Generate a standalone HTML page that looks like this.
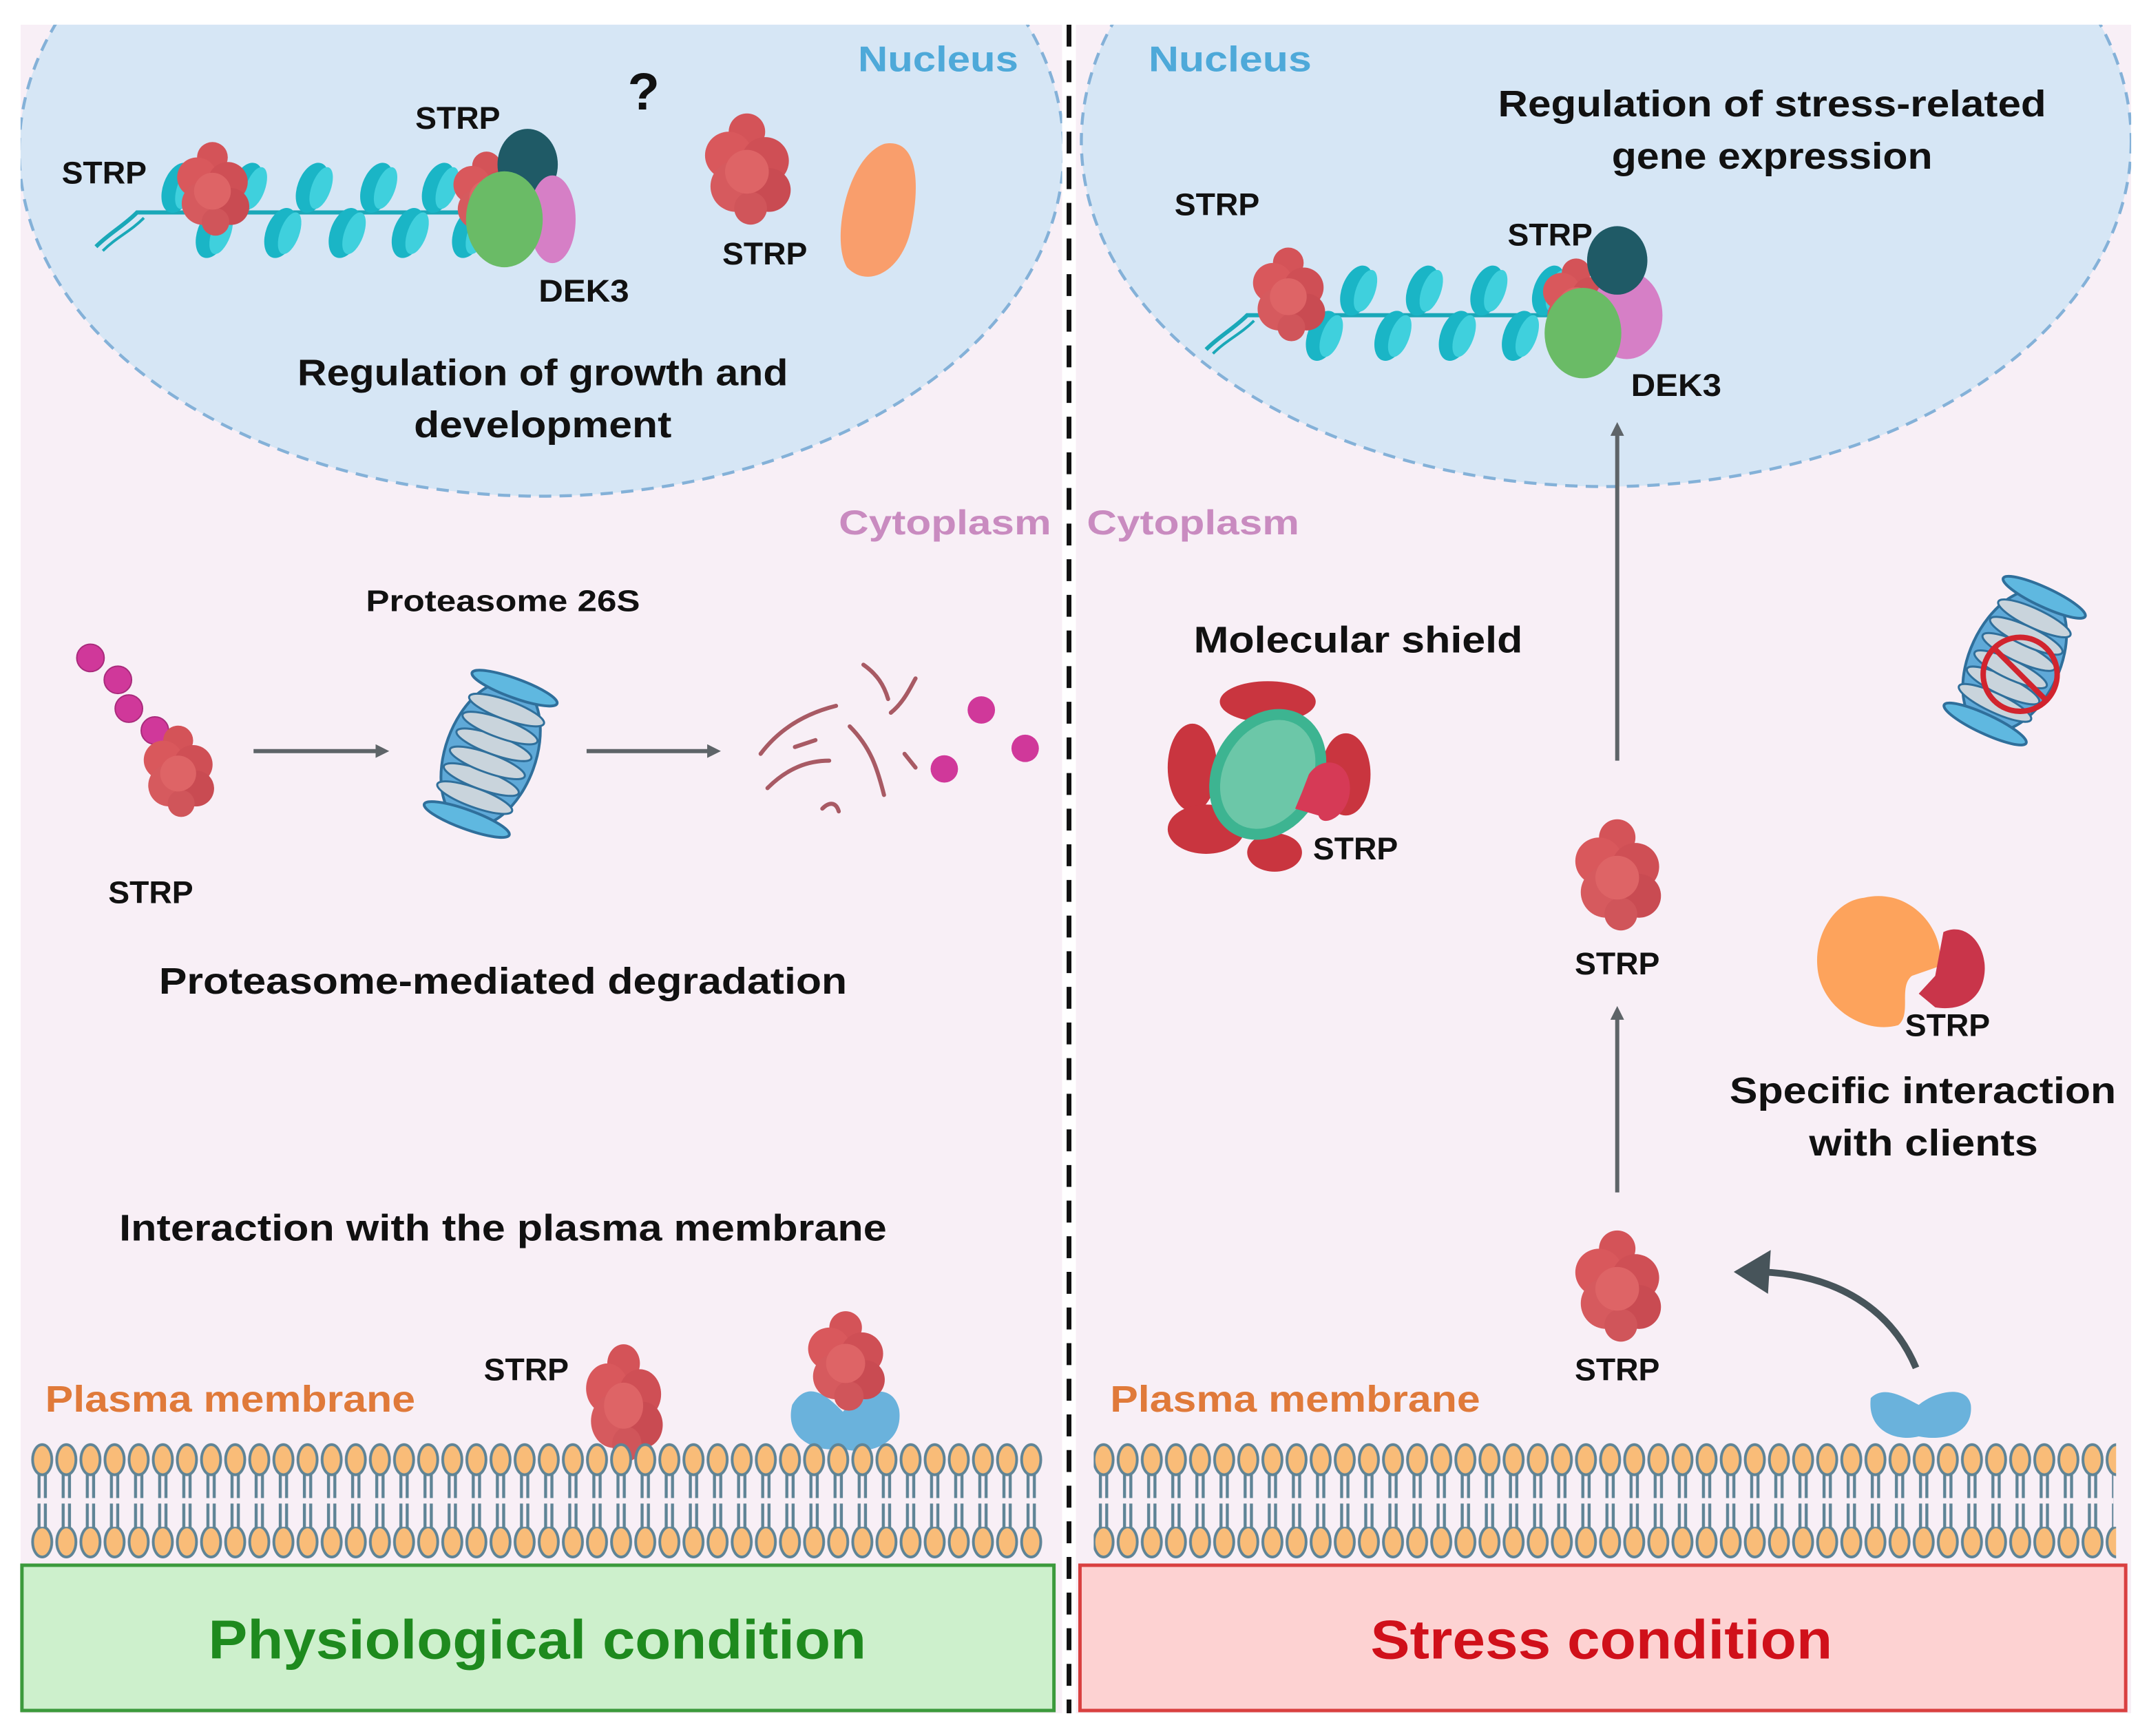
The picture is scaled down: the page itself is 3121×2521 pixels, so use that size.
<!DOCTYPE html>
<html><head><meta charset="utf-8"><style>
html,body{margin:0;padding:0;background:#fff}
svg{display:block}
text{font-family:"Liberation Sans",sans-serif;font-weight:bold}
</style></head><body>
<svg width="3121" height="2521" viewBox="0 0 1568 1266.6" preserveAspectRatio="none" xmlns="http://www.w3.org/2000/svg">
<defs>
<pattern id="mem" x="22" y="1060" width="17.6" height="72" patternUnits="userSpaceOnUse">
 <line x1="6.5" y1="0" x2="6.5" y2="72" stroke="#5f8496" stroke-width="2.2"/>
 <line x1="11.1" y1="0" x2="11.1" y2="72" stroke="#5f8496" stroke-width="2.2"/>
</pattern>
<pattern id="hp" x="22" y="0" width="17.6" height="30" patternUnits="userSpaceOnUse">
 <ellipse cx="8.8" cy="15" rx="7" ry="11" fill="#f9bc78" stroke="#5f8496" stroke-width="2"/>
</pattern>
<g id="blob0">
 <circle cx="0" cy="-18" r="10" fill="#d45358"/>
 <circle cx="-10" cy="-5" r="13" fill="#d9585c"/>
 <circle cx="10" cy="-2" r="13" fill="#cf4f55"/>
 <circle cx="-6" cy="12" r="14" fill="#d65a5e"/>
 <circle cx="12" cy="14" r="12" fill="#c94b52"/>
 <circle cx="2" cy="24" r="9" fill="#d0555a"/>
 <circle cx="0" cy="4" r="12" fill="#de6466"/>
</g>
<g id="blob"><use href="#blob0" transform="scale(1.4)"/></g>
<g id="nuc">
 <ellipse cx="0" cy="0" rx="11" ry="19" fill="#1ab5c6" transform="rotate(20)"/>
 <ellipse cx="6" cy="-2" rx="7" ry="16" fill="#3fd0dd" transform="rotate(20)"/>
</g>
<g id="chain">
 <path d="M0 55 C10 45,20 40,30 30 L270 30" stroke="#1aa8b8" stroke-width="3" fill="none"/>
 <path d="M5 58 C15 48,25 44,35 34" stroke="#1aa8b8" stroke-width="2" fill="none"/>
 <use href="#nuc" x="60" y="12"/><use href="#nuc" x="85" y="45"/>
 <use href="#nuc" x="110" y="12"/><use href="#nuc" x="135" y="45"/>
 <use href="#nuc" x="158" y="12"/><use href="#nuc" x="182" y="45"/>
 <use href="#nuc" x="205" y="12"/><use href="#nuc" x="228" y="45"/>
 <use href="#nuc" x="250" y="12"/><use href="#nuc" x="272" y="45"/>
</g>
<g id="prot">
 <ellipse cx="0" cy="0" rx="55" ry="33" fill="#5fa9d8" stroke="#2f6f9b" stroke-width="2"/>
 <g stroke="#2f6f9b" stroke-width="1.5" fill="#c9d4dc">
  <ellipse cx="-34" cy="0" rx="7" ry="29"/><ellipse cx="-20" cy="0" rx="7" ry="29"/>
  <ellipse cx="-7" cy="0" rx="7" ry="29"/><ellipse cx="7" cy="0" rx="7" ry="29"/>
  <ellipse cx="20" cy="0" rx="7" ry="29"/><ellipse cx="34" cy="0" rx="7" ry="29"/>
 </g>
 <ellipse cx="-51" cy="0" rx="7" ry="33" fill="#5fb8e0" stroke="#2f6f9b" stroke-width="2"/>
 <ellipse cx="51" cy="0" rx="7" ry="33" fill="#5fb8e0" stroke="#2f6f9b" stroke-width="2"/>
</g>
<marker id="ah" markerWidth="10" markerHeight="10" refX="6" refY="5" orient="auto" markerUnits="userSpaceOnUse">
 <path d="M0 0 L10 5 L0 10 Z" fill="#5e6468"/>
</marker>
</defs>

<rect x="15" y="18" width="760" height="1232" fill="#f8eff6"/>
<rect x="785" y="18" width="770" height="1232" fill="#f8eff6"/>

<ellipse cx="395" cy="110" rx="381" ry="252" fill="#d6e6f5" stroke="#84b1d8" stroke-width="2.2" stroke-dasharray="9 6"/>
<ellipse cx="1172" cy="103" rx="383" ry="252" fill="#d6e6f5" stroke="#84b1d8" stroke-width="2.2" stroke-dasharray="9 6"/>
<rect x="0" y="0" width="1568" height="18" fill="#fff"/>
<rect x="0" y="0" width="15" height="1267" fill="#fff"/>
<rect x="1555" y="0" width="13" height="1267" fill="#fff"/>
<rect x="775" y="0" width="10" height="1267" fill="#fff"/>

<line x1="780" y1="18" x2="780" y2="1250" stroke="#111" stroke-width="3.5" stroke-dasharray="16 10"/>

<!-- left nucleus -->
<text x="626" y="52" font-size="26" fill="#4ea9d9" textLength="117" lengthAdjust="spacingAndGlyphs">Nucleus</text>
<text x="458" y="80" font-size="38" fill="#111">?</text>
<use href="#chain" x="70" y="125"/>
<use href="#blob" x="155" y="135" transform="translate(155 135) scale(0.8) translate(-155 -135)"/>
<use href="#blob" x="355" y="140" transform="translate(355 140) scale(0.75) translate(-355 -140)"/>
<ellipse cx="385" cy="120" rx="22" ry="26" fill="#1f5a66"/>
<ellipse cx="403" cy="160" rx="17" ry="32" fill="#d67fc6"/>
<ellipse cx="368" cy="160" rx="28" ry="35" fill="#6abb66"/>
<text x="45" y="134" font-size="23" fill="#111" textLength="62" lengthAdjust="spacingAndGlyphs">STRP</text>
<text x="303" y="94" font-size="23" fill="#111" textLength="62" lengthAdjust="spacingAndGlyphs">STRP</text>
<text x="393" y="220" font-size="23" fill="#111" textLength="66" lengthAdjust="spacingAndGlyphs">DEK3</text>
<use href="#blob" x="545" y="120" transform="translate(545 120) scale(0.95) translate(-545 -120)"/>
<path d="M645 105 C670 100,672 135,664 170 C656 200,632 210,618 195 C606 175,618 115,645 105Z" fill="#f99e6c"/>
<text x="527" y="193" font-size="23" fill="#111" textLength="62" lengthAdjust="spacingAndGlyphs">STRP</text>
<text x="217" y="281" font-size="27" fill="#111" textLength="358" lengthAdjust="spacingAndGlyphs">Regulation of growth and</text>
<text x="302" y="319" font-size="27" fill="#111" textLength="188" lengthAdjust="spacingAndGlyphs">development</text>

<!-- right nucleus -->
<text x="838" y="52" font-size="26" fill="#4ea9d9" textLength="119" lengthAdjust="spacingAndGlyphs">Nucleus</text>
<text x="1093" y="85" font-size="27" fill="#111" textLength="400" lengthAdjust="spacingAndGlyphs">Regulation of stress-related</text>
<text x="1176" y="123" font-size="27" fill="#111" textLength="234" lengthAdjust="spacingAndGlyphs">gene expression</text>
<text x="857" y="157" font-size="23" fill="#111" textLength="62" lengthAdjust="spacingAndGlyphs">STRP</text>
<use href="#chain" x="880" y="200"/>
<use href="#blob" x="940" y="212" transform="translate(940 212) scale(0.8) translate(-940 -212)"/>
<use href="#blob" x="1150" y="218" transform="translate(1150 218) scale(0.75) translate(-1150 -218)"/>
<ellipse cx="1187" cy="230" rx="26" ry="32" fill="#d67fc6"/>
<ellipse cx="1180" cy="190" rx="22" ry="25" fill="#1f5a66"/>
<ellipse cx="1155" cy="243" rx="28" ry="33" fill="#6abb66"/>
<text x="1100" y="179" font-size="23" fill="#111" textLength="62" lengthAdjust="spacingAndGlyphs">STRP</text>
<text x="1190" y="289" font-size="23" fill="#111" textLength="66" lengthAdjust="spacingAndGlyphs">DEK3</text>

<text x="612" y="390" font-size="25" fill="#c98bc0" textLength="155" lengthAdjust="spacingAndGlyphs">Cytoplasm</text>
<text x="793" y="390" font-size="25" fill="#c98bc0" textLength="155" lengthAdjust="spacingAndGlyphs">Cytoplasm</text>

<!-- left degradation -->
<text x="267" y="446" font-size="22" fill="#111" textLength="200" lengthAdjust="spacingAndGlyphs">Proteasome 26S</text>
<g fill="#d0389a" stroke="#a92b7c" stroke-width="1">
 <circle cx="66" cy="480" r="10"/><circle cx="86" cy="496" r="10"/><circle cx="94" cy="517" r="10"/><circle cx="113" cy="533" r="10"/>
</g>
<use href="#blob" x="130" y="560" transform="translate(130 560) scale(0.78) translate(-130 -560)"/>
<text x="79" y="659" font-size="23" fill="#111" textLength="62" lengthAdjust="spacingAndGlyphs">STRP</text>
<line x1="185" y1="548" x2="280" y2="548" stroke="#5e6468" stroke-width="3" marker-end="url(#ah)"/>
<use href="#prot" transform="translate(358 550) rotate(-70)"/>
<line x1="428" y1="548" x2="522" y2="548" stroke="#5e6468" stroke-width="3" marker-end="url(#ah)"/>
<g stroke="#a85a64" stroke-width="3" fill="none" stroke-linecap="round">
 <path d="M555 550 C570 530,590 520,610 515"/><path d="M560 575 C575 560,590 555,605 555"/>
 <path d="M620 530 C635 545,640 560,645 580"/><path d="M630 485 C640 492,645 500,648 510"/>
 <path d="M650 520 C660 512,665 500,668 495"/><path d="M600 590 C605 585,610 585,612 592"/>
 <path d="M580 545 L595 540"/><path d="M660 550 L668 560"/>
</g>
<g fill="#d0389a"><circle cx="716" cy="518" r="10"/><circle cx="689" cy="561" r="10"/><circle cx="748" cy="546" r="10"/></g>
<text x="116" y="725" font-size="27" fill="#111" textLength="502" lengthAdjust="spacingAndGlyphs">Proteasome-mediated degradation</text>

<text x="87" y="905" font-size="27" fill="#111" textLength="560" lengthAdjust="spacingAndGlyphs">Interaction with the plasma membrane</text>
<text x="33" y="1030" font-size="27" fill="#e07a3a" textLength="270" lengthAdjust="spacingAndGlyphs">Plasma membrane</text>
<text x="353" y="1007" font-size="23" fill="#111" textLength="62" lengthAdjust="spacingAndGlyphs">STRP</text>
<use href="#blob" x="455" y="1020" transform="translate(455 1020) scale(0.85,1.0) translate(-455 -1020)"/>
<path d="M578 1025 C590 1005,605 1020,615 1030 C625 1018,650 1005,656 1028 C660 1055,632 1062,615 1057 C595 1060,572 1050,578 1025Z" fill="#6ab2dc"/>
<use href="#blob" x="617" y="990" transform="translate(617 990) scale(0.85) translate(-617 -990)"/>

<!-- right side -->
<text x="871" y="476" font-size="27" fill="#111" textLength="240" lengthAdjust="spacingAndGlyphs">Molecular shield</text>
<g fill="#c9353f">
 <ellipse cx="925" cy="512" rx="35" ry="15"/><ellipse cx="870" cy="560" rx="18" ry="32"/>
 <ellipse cx="880" cy="605" rx="28" ry="18"/><ellipse cx="930" cy="622" rx="20" ry="14"/>
 <ellipse cx="982" cy="565" rx="18" ry="30"/>
</g>
<ellipse cx="925" cy="565" rx="40" ry="50" fill="#3db491" transform="rotate(30 925 565)"/>
<ellipse cx="925" cy="565" rx="32" ry="42" fill="#6cc7a8" transform="rotate(30 925 565)"/>
<path d="M955 565 C965 550,985 555,985 575 C985 595,965 605,962 595 L945 590 L950 578Z" fill="#d63a56"/>
<text x="958" y="627" font-size="23" fill="#111" textLength="62" lengthAdjust="spacingAndGlyphs">STRP</text>

<line x1="1180" y1="555" x2="1180" y2="312" stroke="#5e6468" stroke-width="3" marker-end="url(#ah)"/>
<use href="#blob" x="1180" y="635" transform="translate(1180 635) scale(0.95) translate(-1180 -635)"/>
<text x="1149" y="711" font-size="23" fill="#111" textLength="62" lengthAdjust="spacingAndGlyphs">STRP</text>
<line x1="1180" y1="870" x2="1180" y2="738" stroke="#5e6468" stroke-width="3" marker-end="url(#ah)"/>
<use href="#blob" x="1180" y="935" transform="translate(1180 935) scale(0.95) translate(-1180 -935)"/>
<text x="1149" y="1007" font-size="23" fill="#111" textLength="62" lengthAdjust="spacingAndGlyphs">STRP</text>
<path d="M1398 998 C1380 955,1340 930,1285 928" stroke="#47545a" stroke-width="5" fill="none"/>
<path d="M1265 928 L1292 912 L1290 944 Z" fill="#47545a"/>
<path d="M1365 1020 C1375 1010,1390 1020,1400 1025 C1412 1015,1435 1010,1438 1025 C1440 1045,1420 1052,1400 1048 C1385 1052,1362 1045,1365 1020Z" fill="#6ab2dc"/>

<use href="#prot" transform="translate(1470 482) rotate(-65)"/>
<circle cx="1474" cy="492" r="27" fill="none" stroke="#d1242e" stroke-width="4"/>
<line x1="1455" y1="473" x2="1493" y2="511" stroke="#d1242e" stroke-width="4"/>

<path d="M1360 655 C1395 647,1420 680,1415 705 L1395 712 C1385 720,1395 740,1385 748 C1360 755,1328 735,1326 705 C1324 680,1340 657,1360 655Z" fill="#fda35c"/>
<path d="M1418 680 C1435 672,1450 690,1448 710 C1446 730,1430 738,1412 735 L1400 725 L1412 712Z" fill="#c9354a"/>
<text x="1390" y="756" font-size="23" fill="#111" textLength="62" lengthAdjust="spacingAndGlyphs">STRP</text>
<text x="1262" y="805" font-size="27" fill="#111" textLength="282" lengthAdjust="spacingAndGlyphs">Specific interaction</text>
<text x="1320" y="843" font-size="27" fill="#111" textLength="167" lengthAdjust="spacingAndGlyphs">with clients</text>
<text x="810" y="1030" font-size="27" fill="#e07a3a" textLength="270" lengthAdjust="spacingAndGlyphs">Plasma membrane</text>

<!-- membranes -->
<rect x="24" y="1060" width="735" height="72" fill="url(#mem)"/>
<rect x="24" y="1093" width="735" height="4" fill="#f8eff6"/>
<rect x="800" y="1060" width="742" height="72" fill="url(#mem)"/>
<rect x="800" y="1093" width="742" height="4" fill="#f8eff6"/>
<rect x="22" y="1048" width="739" height="30" fill="url(#hp)"/>
<rect x="22" y="1114" width="739" height="30" fill="url(#hp)"/>
<rect x="798" y="1048" width="746" height="30" fill="url(#hp)"/>
<rect x="798" y="1114" width="746" height="30" fill="url(#hp)"/>

<rect x="16" y="1142" width="753" height="106" fill="#cdf0cc" stroke="#3c9a3c" stroke-width="2.5"/>
<text x="152" y="1210" font-size="40" fill="#1e8a1e" textLength="480" lengthAdjust="spacingAndGlyphs">Physiological condition</text>
<rect x="788" y="1142" width="763" height="106" fill="#fdd2d2" stroke="#d94040" stroke-width="2.5"/>
<text x="1000" y="1210" font-size="40" fill="#d0101a" textLength="337" lengthAdjust="spacingAndGlyphs">Stress condition</text>
</svg>
</body></html>
